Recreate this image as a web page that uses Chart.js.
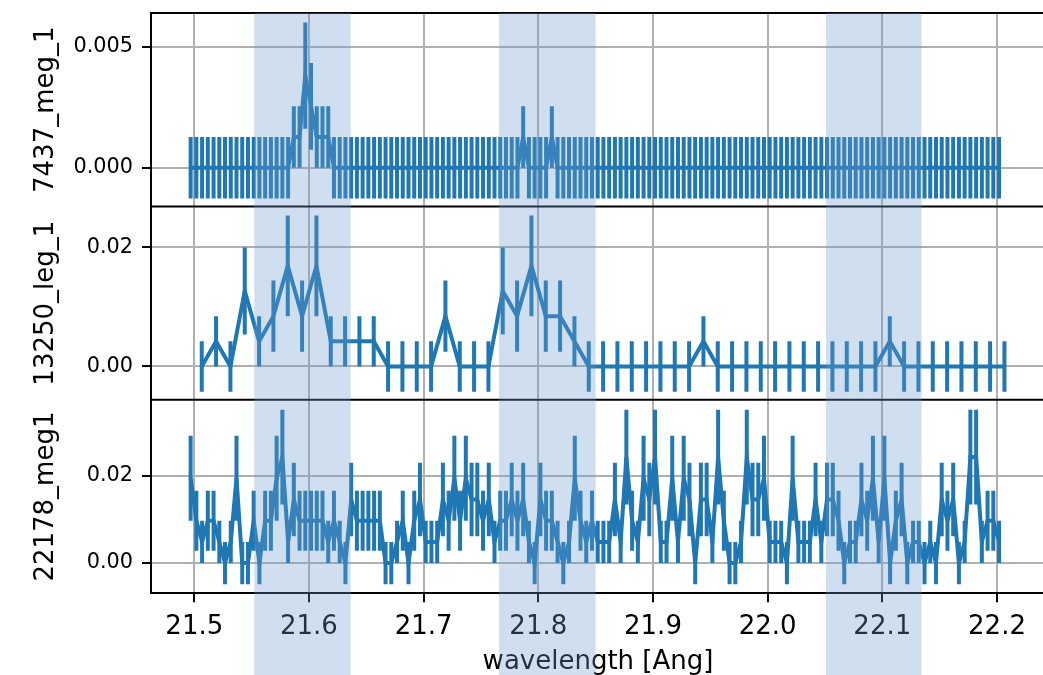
<!DOCTYPE html>
<html>
<head>
<meta charset="utf-8">
<script src="https://cdn.jsdelivr.net/npm/chart.js@4/dist/chart.umd.min.js"></script>
<style>
  html, body { margin: 0; padding: 0; background: #fff; overflow: hidden; }
  #wrap { width: 1047px; height: 675px; }
</style>
</head>
<body>
<div id="wrap"><canvas id="spectra"></canvas></div>
<script>
// wavelength grids in Angstrom: centre of the first bin and bin width
var megStart = 21.4968, megStep = 0.005;
var legStart = 21.5065, legStep = 0.0125;

// counts per bin
var counts7437 = [
  0, 0, 0, 0, 0, 0, 0, 0, 0, 0, 0, 0, 0, 0, 0, 0, 0, 0, 1, 1,
  3, 2, 1, 1, 1, 0, 0, 0, 0, 0, 0, 0, 0, 0, 0, 0, 0, 0, 0, 0,
  0, 0, 0, 0, 0, 0, 0, 0, 0, 0, 0, 0, 0, 0, 0, 0, 0, 0, 1, 0,
  0, 0, 0, 1, 0, 0, 0, 0, 0, 0, 0, 0, 0, 0, 0, 0, 0, 0, 0, 0,
  0, 0, 0, 0, 0, 0, 0, 0, 0, 0, 0, 0, 0, 0, 0, 0, 0, 0, 0, 0,
  0, 0, 0, 0, 0, 0, 0, 0, 0, 0, 0, 0, 0, 0, 0, 0, 0, 0, 0, 0,
  0, 0, 0, 0, 0, 0, 0, 0, 0, 0, 0, 0, 0, 0, 0, 0, 0, 0, 0, 0,
  0, 0
];
var counts13250 = [
  0, 1, 0, 3, 1, 2, 4, 2, 4, 1,
  1, 1, 1, 0, 0, 0, 0, 2, 0, 0,
  0, 3, 2, 4, 2, 2, 1, 0, 0, 0,
  0, 0, 0, 0, 0, 1, 0, 0, 0, 0,
  0, 0, 0, 0, 0, 0, 0, 0, 1, 0,
  0, 0, 0, 0, 0, 0, 0
];
var counts22178 = [
  4, 2, 1, 2, 2, 1, 0, 1, 4, 0, 0, 2, 0, 2, 2, 4, 5, 1, 3, 2,
  2, 2, 2, 2, 1, 2, 1, 0, 3, 2, 2, 2, 2, 2, 0, 0, 1, 2, 0, 2,
  3, 1, 1, 1, 3, 2, 4, 2, 4, 3, 3, 2, 3, 1, 2, 2, 3, 2, 3, 1,
  0, 3, 2, 2, 1, 0, 1, 4, 2, 1, 2, 1, 1, 1, 3, 1, 5, 2, 1, 4,
  3, 5, 1, 1, 4, 1, 4, 3, 0, 3, 3, 1, 5, 2, 0, 0, 1, 5, 3, 3,
  4, 1, 1, 1, 0, 4, 1, 1, 1, 3, 1, 3, 3, 2, 0, 1, 1, 3, 2, 4,
  1, 4, 0, 2, 3, 0, 1, 1, 0, 1, 0, 3, 2, 3, 0, 1, 5, 5, 1, 2,
  2, 1
];

// flux per count for each spectrum
var perCount7437 = 0.00127;
var perCount13250 = 0.00422;
var perCount22178 = 0.00485;

var xTicks = [21.5, 21.6, 21.7, 21.8, 21.9, 22.0, 22.1, 22.2];
var yTicks7437 = [0, 0.005];
var yTicks13250 = [0, 0.02];
var yTicks22178 = [0, 0.02];

// wavelength ranges that get shaded
var lineBands = [[21.5523, 21.6364], [21.7657, 21.8500], [22.0509, 22.1343]];

var blue = "#1f77b4";

Chart.defaults.font.family = "'DejaVu Sans', sans-serif";
Chart.defaults.font.size = 26;
Chart.defaults.color = "#000";

function toPoints(start, step, counts, perCount) {
  return counts.map(function (n, i) {
    return { x: start + step * i, y: n * perCount };
  });
}

// poisson errors, empty bins get the one-count error
function toErrors(counts, perCount) {
  return counts.map(function (n) {
    return perCount * Math.sqrt(Math.max(n, 1));
  });
}

function panelAxis(title, ticks, min, max, digits) {
  return {
    type: "linear",
    position: "left",
    stack: "panels",
    stackWeight: 1,
    min: min,
    max: max,
    afterFit: function (scale) {
      scale.width = 151;
      scale.paddingTop = 0;
      scale.paddingBottom = 0;
    },
    afterBuildTicks: function (scale) {
      scale.ticks = ticks.map(function (v) { return { value: v }; });
    },
    ticks: {
      padding: 9,
      font: { size: 20.8 },
      callback: function (v) { return Number(v).toFixed(digits); },
    },
    grid: { color: "#b0b0b0", lineWidth: 2, tickColor: "#000", tickLength: 9, tickWidth: 2 },
    border: { display: true, color: "#000", width: 2 },
    title: { display: true, text: title, padding: { top: 31, bottom: 0 } },
  };
}

var errorBars = {
  id: "errorBars",
  afterDatasetsDraw: function (chart) {
    var ctx = chart.ctx;
    var xScale = chart.scales.x;
    ctx.save();
    ctx.strokeStyle = blue;
    ctx.lineWidth = 4;
    chart.data.datasets.forEach(function (ds) {
      var yScale = chart.scales[ds.yAxisID];
      ctx.beginPath();
      ds.data.forEach(function (p, i) {
        var px = xScale.getPixelForValue(p.x);
        ctx.moveTo(px, yScale.getPixelForValue(p.y - ds.errors[i]));
        ctx.lineTo(px, yScale.getPixelForValue(p.y + ds.errors[i]));
      });
      ctx.stroke();
    });
    // black frame lines between the panels
    ctx.strokeStyle = "#000";
    ctx.lineWidth = 2;
    ["y1", "y2", "y3"].forEach(function (id) {
      var top = chart.scales[id].top;
      ctx.beginPath();
      ctx.moveTo(chart.chartArea.left, top);
      ctx.lineTo(chart.chartArea.right, top);
      ctx.stroke();
    });
    ctx.restore();
  },
};

var shading = {
  id: "shading",
  afterDraw: function (chart) {
    var ctx = chart.ctx;
    var xScale = chart.scales.x;
    var top = chart.chartArea.top;
    ctx.save();
    ctx.fillStyle = "rgba(110, 155, 205, 0.32)";
    lineBands.forEach(function (b) {
      var x0 = xScale.getPixelForValue(b[0]);
      var x1 = xScale.getPixelForValue(b[1]);
      ctx.fillRect(x0, top, x1 - x0, chart.height - top);
    });
    ctx.restore();
  },
};

function spectrum(name, start, step, counts, perCount, axis) {
  return {
    label: name,
    data: toPoints(start, step, counts, perCount),
    errors: toErrors(counts, perCount),
    yAxisID: axis,
    borderColor: blue,
    borderWidth: 4,
    pointRadius: 0,
    tension: 0,
    fill: false,
  };
}

var ctx1 = document.getElementById("spectra").getContext("2d");

var myChart = new Chart(ctx1, {
  type: "line",
  data: {
    datasets: [
      spectrum("7437_meg_1", megStart, megStep, counts7437, perCount7437, "y1"),
      spectrum("13250_leg_1", legStart, legStep, counts13250, perCount13250, "y2"),
      spectrum("22178_meg1", megStart, megStep, counts22178, perCount22178, "y3"),
    ],
  },
  options: {
    responsive: true,
    maintainAspectRatio: false,
    animation: false,
    layout: { padding: { top: 13, right: 2, left: 0, bottom: 0 } },
    plugins: { legend: { display: false }, tooltip: { enabled: false } },
    scales: {
      x: {
        type: "linear",
        position: "bottom",
        min: 21.46224,
        max: 22.24187,
        afterFit: function (scale) {
          scale.height = 81.7;
          scale.paddingLeft = 0;
          scale.paddingRight = 0;
        },
        afterBuildTicks: function (scale) {
          scale.ticks = xTicks.map(function (v) { return { value: v }; });
        },
        ticks: {
          padding: 9,
          autoSkip: false,
          maxRotation: 0,
          callback: function (v) { return Number(v).toFixed(1); },
        },
        grid: { color: "#b0b0b0", lineWidth: 2, tickColor: "#000", tickLength: 9, tickWidth: 2 },
        border: { display: true, color: "#000", width: 2 },
        title: {
          display: true,
          text: "wavelength [Ang]",
          padding: { top: 0, bottom: 0 },
          font: { lineHeight: 1 },
        },
      },
      y3: panelAxis("22178_meg1", yTicks22178, -0.00691, 0.03733, 2),
      y2: panelAxis("13250_leg_1", yTicks13250, -0.0056, 0.02684, 2),
      y1: panelAxis("7437_meg_1", yTicks7437, -0.0016, 0.0064, 3),
    },
  },
  plugins: [errorBars, shading],
});
</script>
</body>
</html>
